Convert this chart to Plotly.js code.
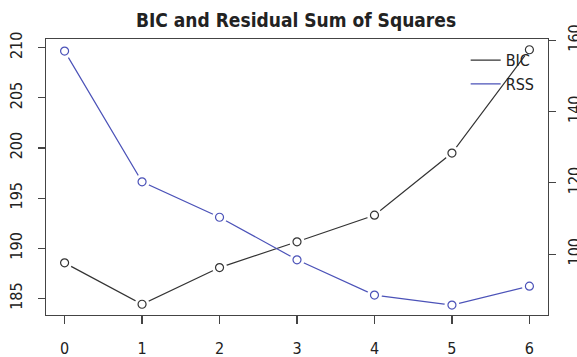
<!DOCTYPE html>
<html>
<head>
<meta charset="utf-8">
<script src="https://cdn.plot.ly/plotly-3.0.1.min.js"></script>
<style>html,body{margin:0;padding:0;background:#fff;}#chart{width:577px;height:357px;}</style>
</head>
<body>
<div id="chart"></div>
<script>
var steps = [0, 1, 2, 3, 4, 5, 6];
var bicValues = [188.55, 184.42, 188.08, 190.65, 193.3, 199.5, 209.8];
var rssValues = [157.0, 120.3, 110.35, 98.4, 88.5, 85.7, 91.0];
var xTickLabels = ['0', '1', '2', '3', '4', '5', '6'];
var leftTicks = [185, 190, 195, 200, 205, 210];
var rightTicks = [100, 120, 140, 160];

var FONT = '"DejaVu Sans Condensed", "Liberation Sans Narrow", "Liberation Sans", Arial, sans-serif';
var BLACK = '#333333';
var BLUE = '#4b52b8';

var traces = [
  {x: steps, y: bicValues, type: 'scatter', mode: 'lines', name: 'BIC',
   line: {color: BLACK, width: 1.2}, yaxis: 'y', hoverinfo: 'skip'},
  {x: steps, y: rssValues, type: 'scatter', mode: 'lines', name: 'RSS',
   line: {color: BLUE, width: 1.2}, yaxis: 'y2', hoverinfo: 'skip'},
  {x: steps, y: bicValues, type: 'scatter', mode: 'markers', showlegend: false,
   marker: {symbol: 'circle', size: 15, color: '#ffffff', line: {width: 0}}, yaxis: 'y'},
  {x: steps, y: rssValues, type: 'scatter', mode: 'markers', showlegend: false,
   marker: {symbol: 'circle', size: 15, color: '#ffffff', line: {width: 0}}, yaxis: 'y2'},
  {x: steps, y: bicValues, type: 'scatter', mode: 'markers', showlegend: false,
   marker: {symbol: 'circle-open', size: 8, color: BLACK, line: {width: 1.2, color: BLACK}}, yaxis: 'y'},
  {x: steps, y: rssValues, type: 'scatter', mode: 'markers', showlegend: false,
   marker: {symbol: 'circle-open', size: 8, color: BLUE, line: {width: 1.2, color: BLUE}}, yaxis: 'y2'}
];

var layout = {
  width: 577, height: 357,
  margin: {l: 46, r: 29, t: 39, b: 42, pad: 0},
  paper_bgcolor: '#ffffff', plot_bgcolor: '#ffffff',
  font: {family: FONT, size: 16, color: '#222222'},
  showlegend: true,
  title: {text: '<b>BIC and Residual Sum of Squares</b>', x: 0.513, xanchor: 'center',
          y: 1 - 20/357, yanchor: 'middle', yref: 'container',
          font: {family: FONT, size: 19, color: '#222222'}},
  xaxis: {range: [-0.24, 6.24], tickvals: steps, ticktext: xTickLabels,
          showgrid: false, zeroline: false, showline: true, mirror: true,
          linecolor: '#444444', linewidth: 1.2, ticks: 'outside', ticklen: 8,
          tickcolor: '#444444', tickwidth: 1.2, ticklabelstandoff: 11},
  yaxis: {range: [183.35, 210.87], tickvals: leftTicks, tickangle: -90,
          showgrid: false, zeroline: false, showline: true, mirror: true,
          linecolor: '#444444', linewidth: 1.2, ticks: 'outside', ticklen: 7,
          tickcolor: '#444444', tickwidth: 1.2, ticklabelstandoff: 9},
  yaxis2: {range: [82.9, 160.4], tickvals: rightTicks, tickangle: -90,
           overlaying: 'y', side: 'right', showgrid: false, zeroline: false,
           showline: false, ticks: 'outside', ticklen: 7,
           tickcolor: '#444444', tickwidth: 1.2, ticklabelstandoff: 5},
  legend: {x: 0.836, y: 0.985, xanchor: 'left', yanchor: 'top', bgcolor: 'rgba(0,0,0,0)',
           borderwidth: 0, font: {family: FONT, size: 16, color: '#222222'},
           tracegroupgap: 0, itemwidth: 30}
};

Plotly.newPlot('chart', traces, layout, {displayModeBar: false, staticPlot: true});
</script>
</body>
</html>
